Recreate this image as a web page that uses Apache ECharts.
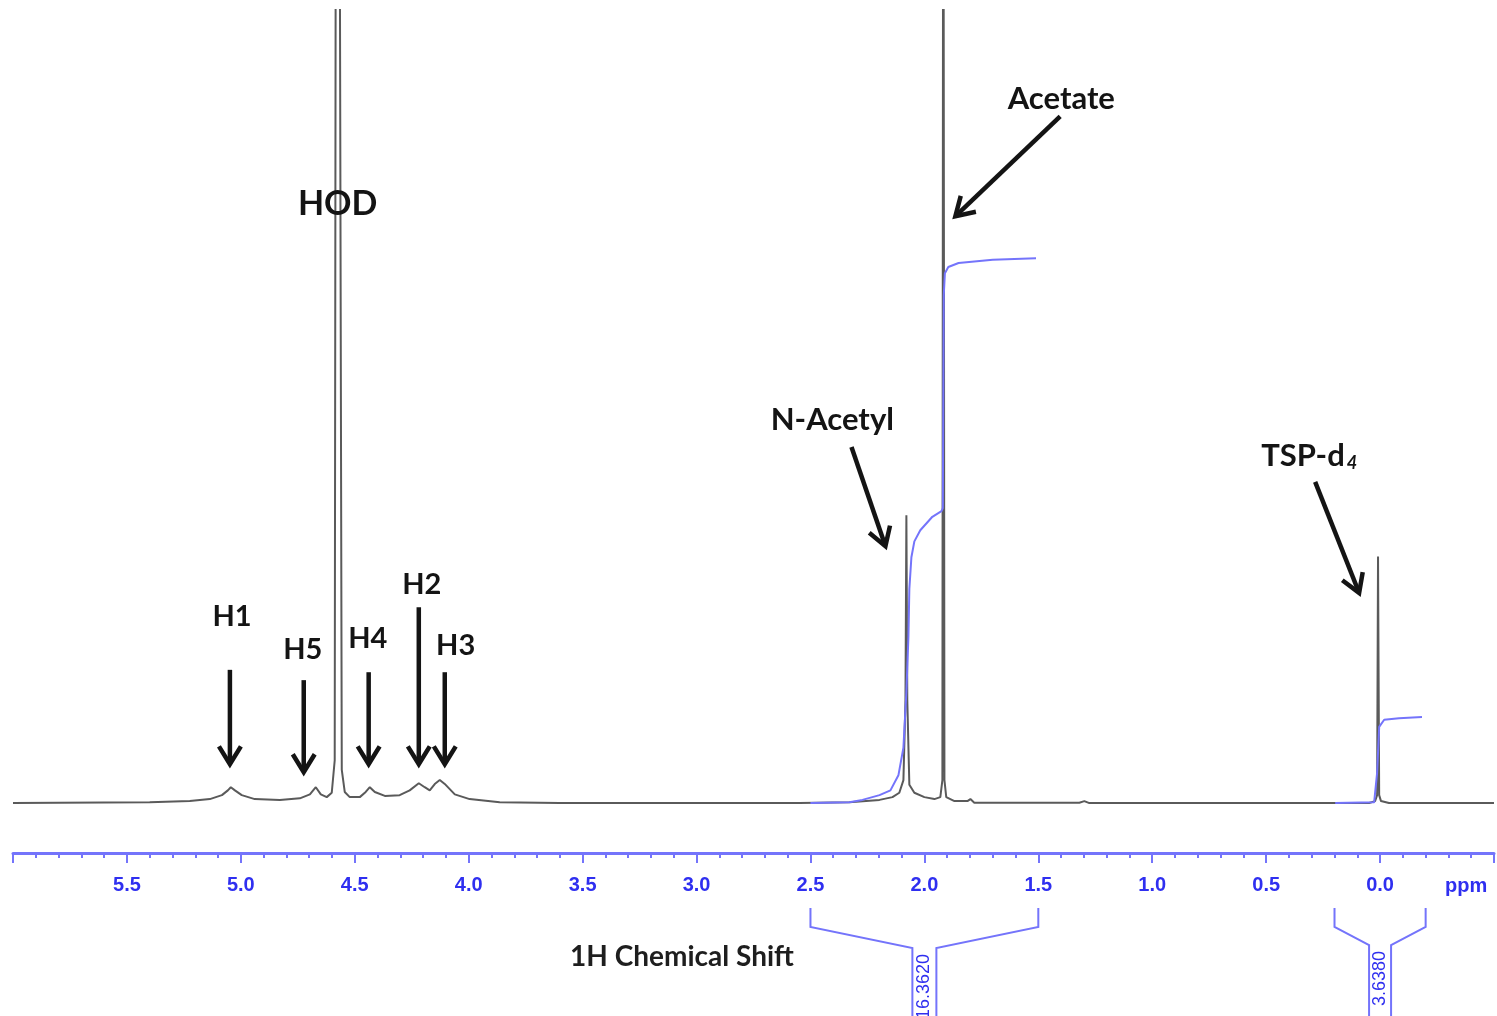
<!DOCTYPE html>
<html>
<head>
<meta charset="utf-8">
<script src="https://cdn.jsdelivr.net/npm/echarts@6/dist/echarts.min.js"></script>
<style>
  html, body { margin: 0; padding: 0; background: #ffffff; }
  #chart { width: 1497px; height: 1016px; }
</style>
</head>
<body>
<div id="chart"></div>
<script>
// 1H NMR spectrum of chitosan acetate in D2O (chemical shift in ppm, relative intensity)
const shiftPpm = [
  6.0, 5.40, 5.224, 5.136, 5.083, 5.057, 5.044, 5.026, 4.996, 4.939,
  4.829, 4.741, 4.697, 4.671, 4.649, 4.623, 4.601, 4.588, 4.582, 4.569,
  4.557, 4.544, 4.522, 4.478, 4.452, 4.434, 4.412, 4.368, 4.303, 4.259,
  4.219, 4.193, 4.171, 4.149, 4.127, 4.101, 4.061, 3.996, 3.864, 3.601,
  2.548, 2.329, 2.197, 2.140, 2.110, 2.092, 2.083, 2.079, 2.075, 2.066,
  2.044, 2.000, 1.956, 1.930, 1.921, 1.917, 1.912, 1.904, 1.868, 1.811,
  1.798, 1.781, 1.320, 1.298, 1.276, 0.048, 0.022, 0.013, 0.009, 0.004,
  -0.004, -0.039, -0.5
];
const intensity = [
  0, 0.1, 0.25, 0.5, 1.0, 1.6, 2.0, 1.6, 1.0, 0.5,
  0.4, 0.6, 1.1, 2.0, 1.1, 0.75, 1.3, 5.4, 150, 150,
  4.2, 1.4, 0.75, 0.75, 1.4, 2.0, 1.4, 0.9, 1.0, 1.6,
  2.5, 2.0, 1.6, 2.4, 2.9, 2.3, 1.1, 0.5, 0.1, 0,
  0, 0.1, 0.4, 0.75, 1.3, 2.9, 13, 36.3, 13, 2.3,
  1.3, 0.75, 0.5, 0.75, 2.9, 150, 2.9, 0.75, 0.25, 0.25,
  0.5, 0.05, 0.05, 0.25, 0, 0, 0.25, 1, 31.1, 1,
  0.25, 0, 0
];

// Integral trace over the acetyl / acetate region (2.5 - 1.5 ppm)
const integralAcetylPpm = [2.5, 2.329, 2.272, 2.197, 2.149, 2.114, 2.092, 2.079, 2.070, 2.066,
  2.057, 2.044, 2.018, 1.965, 1.925, 1.919, 1.915, 1.910, 1.895, 1.85, 1.70, 1.51];
const integralAcetylVal = [0, 0.1, 0.4, 1.0, 1.6, 3.5, 7.0, 14, 21, 27,
  31, 33, 34.4, 36.1, 36.8, 37.2, 64, 66.8, 67.6, 68.1, 68.5, 68.7];

// Integral trace over the TSP-d4 reference (0.2 - -0.2 ppm)
const integralTspPpm = [0.197, 0.026, 0.013, 0.004, -0.018, -0.083, -0.184];
const integralTspVal = [0, 0.1, 3.8, 9.6, 10.5, 10.7, 10.85];

// Integration ranges and their integral values
const integralRanges = [[2.5, 1.5], [0.2, -0.2]];
const integralValues = ['16.3620', '3.6380'];

// Peak assignments
const peakNames = ['H1', 'H5', 'H4', 'H2', 'H3', 'HOD', 'N-Acetyl', 'Acetate', 'TSP-d4'];

// Annotation layout, in axis units (ppm, intensity)
const annotationLayout = {
  'H1':       { label: [5.039, 23.5], tail: [5.048, 16.8], tip: [5.048, 4.9] },
  'H5':       { label: [4.728, 19.4], tail: [4.724, 15.5], tip: [4.724, 3.9] },
  'H4':       { label: [4.443, 20.7], tail: [4.439, 16.5], tip: [4.439, 4.9] },
  'H2':       { label: [4.206, 27.6], tail: [4.219, 24.7], tip: [4.219, 4.9] },
  'H3':       { label: [4.057, 19.8], tail: [4.105, 16.5], tip: [4.105, 4.9] },
  'HOD':      { label: [4.575, 75.5] },
  'N-Acetyl': { label: [2.404, 48.3], tail: [2.320, 44.9], tip: [2.171, 32.4] },
  'Acetate':  { label: [1.399, 88.8], tail: [1.404, 86.6], tip: [1.864, 74.0] },
  'TSP-d4':   { label: [0.311, 43.9], tail: [0.285, 40.5], tip: [0.092, 26.5] }
};

const BLUE_LINE = '#7474fb';
const BLUE_TEXT = '#2f2ff0';
const INK = '#141414';
const LABEL_FONT = 'Lato, "Open Sans", "Liberation Sans", sans-serif';
const AXIS_FONT = '"Liberation Sans Narrow", "Liberation Sans", Arial, sans-serif';
const AXIS_OFFSET = 42;

const chart = echarts.init(document.getElementById('chart'), null, { renderer: 'canvas' });

chart.setOption({
  animation: false,
  backgroundColor: '#ffffff',
  grid: { left: 13, right: 2, top: 10, bottom: 205 },
  xAxis: {
    type: 'value',
    min: -0.5,
    max: 6.0,
    interval: 0.5,
    inverse: true,
    offset: AXIS_OFFSET,
    axisLine: { show: true, onZero: false, lineStyle: { color: BLUE_LINE, width: 3 } },
    axisTick: { show: true, length: 10, lineStyle: { color: BLUE_LINE, width: 2 } },
    minorTick: { show: true, splitNumber: 5, length: 5, lineStyle: { color: BLUE_LINE, width: 2 } },
    splitLine: { show: false },
    minorSplitLine: { show: false },
    axisLabel: {
      margin: 22,
      color: BLUE_TEXT,
      fontFamily: AXIS_FONT,
      fontWeight: 'bold',
      fontSize: 20,
      formatter: v => (v > -0.01 && v < 5.51) ? v.toFixed(1) : ''
    }
  },
  yAxis: { type: 'value', min: -1, max: 100, show: false },
  series: [
    {
      name: 'spectrum',
      type: 'line',
      data: shiftPpm.map((x, i) => [x, intensity[i]]),
      showSymbol: false,
      clip: true,
      lineStyle: { color: '#5a5a5a', width: 2 },
      z: 2
    },
    {
      name: 'integral acetyl',
      type: 'line',
      data: integralAcetylPpm.map((x, i) => [x, integralAcetylVal[i]]),
      showSymbol: false,
      lineStyle: { color: BLUE_LINE, width: 2 },
      z: 3
    },
    {
      name: 'integral TSP',
      type: 'line',
      data: integralTspPpm.map((x, i) => [x, integralTspVal[i]]),
      showSymbol: false,
      lineStyle: { color: BLUE_LINE, width: 2 },
      z: 3
    }
  ]
});

const toPx = p => chart.convertToPixel({ gridIndex: 0 }, p);

function arrow(tailData, tipData) {
  const t = toPx(tailData);
  const p = toPx(tipData);
  const ang = Math.atan2(p[1] - t[1], p[0] - t[0]);
  const L = 21, spread = 0.55;
  const a1 = [p[0] - L * Math.cos(ang - spread), p[1] - L * Math.sin(ang - spread)];
  const a2 = [p[0] - L * Math.cos(ang + spread), p[1] - L * Math.sin(ang + spread)];
  const end = [p[0] - 2 * Math.cos(ang), p[1] - 2 * Math.sin(ang)];
  return [
    { type: 'polyline', silent: true, z: 10, shape: { points: [t, end] },
      style: { stroke: INK, lineWidth: 4.5, fill: null } },
    { type: 'polyline', silent: true, z: 10, shape: { points: [a1, p, a2] },
      style: { stroke: INK, lineWidth: 4.5, fill: null, lineJoin: 'miter' } }
  ];
}

const graphics = [];

peakNames.forEach(name => {
  const lay = annotationLayout[name];
  const pos = toPx(lay.label);
  const big = (name === 'HOD');
  const mid = (name === 'N-Acetyl' || name === 'Acetate' || name === 'TSP-d4');
  const size = big ? 34 : (mid ? 31 : 29);
  if (name === 'TSP-d4') {
    graphics.push({
      type: 'text', silent: true, z: 11, x: pos[0], y: pos[1],
      style: {
        text: '{a|TSP-d}{s|4}', align: 'center', verticalAlign: 'middle',
        rich: {
          a: { fontFamily: LABEL_FONT, fontWeight: 'bold', fontSize: size, fill: INK, lineHeight: 34, verticalAlign: 'bottom' },
          s: { fontFamily: LABEL_FONT, fontWeight: 'bold', fontStyle: 'italic', fontSize: 18, fill: INK, lineHeight: 18, verticalAlign: 'bottom', padding: [0, 0, 0, 2] }
        }
      }
    });
  } else {
    graphics.push({
      type: 'text', silent: true, z: 11, x: pos[0], y: pos[1],
      style: {
        text: name, fontFamily: LABEL_FONT, fontWeight: 'bold', fontSize: size,
        fill: INK, align: 'center', verticalAlign: 'middle'
      }
    });
  }
  if (lay.tail) graphics.push(...arrow(lay.tail, lay.tip));
});

// Integration brackets beneath the ppm scale
const bracketTop = 908, bracketKnee = 927, stripTop = 948, stripHalf = [12, 11];
integralRanges.forEach((range, i) => {
  const xl = toPx([range[0], 0])[0];
  const xr = toPx([range[1], 0])[0];
  const xc = toPx([(range[0] + range[1]) / 2, 0])[0];
  const h = stripHalf[i];
  const st = stripTop - (i === 1 ? 3 : 0);
  graphics.push({
    type: 'polyline', silent: true, z: 5,
    shape: { points: [[xl, bracketTop], [xl, bracketKnee], [xc - h, st], [xc - h, 1030]] },
    style: { stroke: BLUE_LINE, lineWidth: 2, fill: null }
  });
  graphics.push({
    type: 'polyline', silent: true, z: 5,
    shape: { points: [[xr, bracketTop], [xr, bracketKnee], [xc + h, st], [xc + h, 1030]] },
    style: { stroke: BLUE_LINE, lineWidth: 2, fill: null }
  });
  graphics.push({
    type: 'text', silent: true, z: 6, x: xc, y: st + 6, rotation: Math.PI / 2,
    style: {
      text: integralValues[i], fontFamily: '"Liberation Sans", Arial, sans-serif',
      fontSize: 18, fill: BLUE_TEXT, align: 'right', verticalAlign: 'middle'
    }
  });
});

// Unit label at the end of the scale
const axisY = toPx([0, -1])[1] + AXIS_OFFSET;
graphics.push({
  type: 'text', silent: true, z: 6, x: toPx([-0.378, 0])[0], y: axisY + 33,
  style: {
    text: 'ppm', fontFamily: AXIS_FONT, fontWeight: 'bold', fontSize: 20,
    fill: BLUE_TEXT, align: 'center', verticalAlign: 'middle'
  }
});

// Axis title
graphics.push({
  type: 'text', silent: true, z: 6, x: 682, y: 957,
  style: {
    text: '1H Chemical Shift', fontFamily: LABEL_FONT, fontWeight: 'bold', fontSize: 28,
    fill: '#1e1e1e', align: 'center', verticalAlign: 'middle'
  }
});

chart.setOption({ graphic: graphics });
</script>
</body>
</html>
